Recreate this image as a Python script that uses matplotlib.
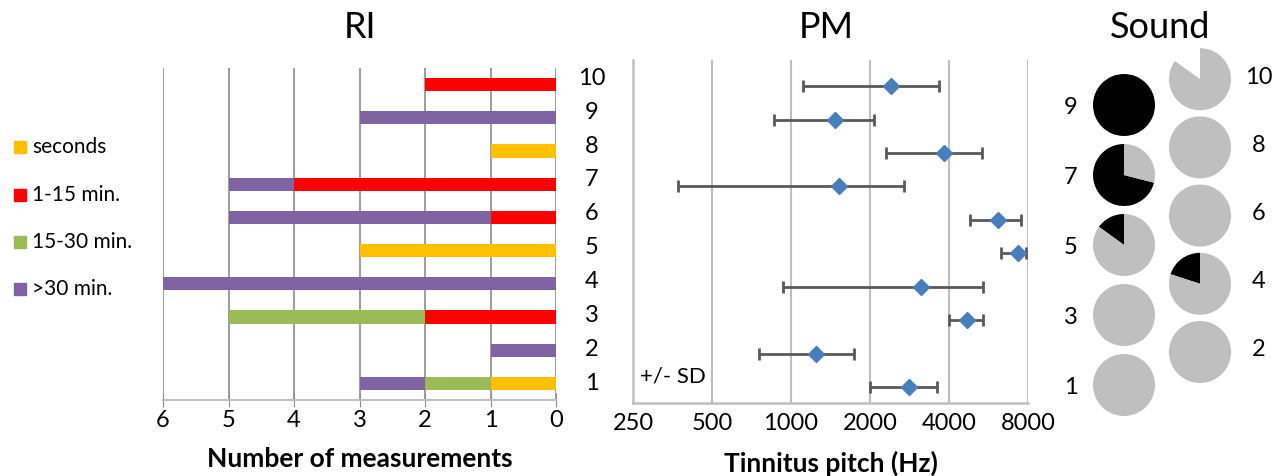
import numpy as np
import matplotlib
matplotlib.use('Agg')
import matplotlib.pyplot as plt
from matplotlib.patches import Rectangle
from matplotlib.transforms import blended_transform_factory

plt.rcParams['font.family'] = ['Lato', 'DejaVu Sans']

W, H = 1277, 476

# --- data ---
subjects = np.arange(1, 11)

# RI: number of measurements per duration category, subjects 1..10
ri_categories = ['seconds', '1-15 min.', '15-30 min.', '>30 min.']
ri_colors = ['#FFC000', '#FF0000', '#9BBB59', '#8064A2']
ri_seconds = [1, 0, 0, 0, 3, 0, 0, 1, 0, 0]
ri_1_15 = [0, 0, 2, 0, 0, 1, 4, 0, 0, 2]
ri_15_30 = [1, 0, 3, 0, 0, 0, 0, 0, 0, 0]
ri_over_30 = [1, 1, 0, 6, 0, 4, 1, 0, 3, 0]

# PM: tinnitus pitch mean and +/- SD range (Hz), subjects 1..10
pm_mean = [2810, 1250, 4680, 3140, 7300, 6160, 1518, 3815, 1468, 2410]
pm_low = [2000, 758, 4000, 935, 6300, 4790, 370, 2310, 865, 1107]
pm_high = [3600, 1740, 5380, 5380, 7830, 7510, 2690, 5320, 2080, 3680]
pm_ticks = [250, 500, 1000, 2000, 4000, 8000]

# Sound: pie fractions (black part, blank part, rest grey), subjects 1..10
sound_black = [0, 0, 0, 0.2, 0.15, 0, 0.71, 0, 1.0, 0]
sound_blank = [0, 0, 0, 0, 0, 0, 0, 0, 0, 0.15]

panel_titles = ['RI', 'PM', 'Sound']


def px_rect(x0, y0, x1, y1):
    # pixel box (top-left origin) -> figure fraction rect
    return [x0 / W, 1 - y1 / H, (x1 - x0) / W, (y1 - y0) / H]


fig = plt.figure(figsize=(W / 100, H / 100), dpi=100)

grid_dark = '#8C8C8C'
grid_light = '#BFBFBF'

# ---------------- RI panel ----------------
ax1 = fig.add_axes(px_rect(163, 68, 556, 400))
left = np.zeros(len(subjects))
for vals, color, name in zip([ri_seconds, ri_1_15, ri_15_30, ri_over_30], ri_colors, ri_categories):
    ax1.barh(subjects, vals, left=left, height=0.4, color=color, label=name, zorder=3)
    left += np.array(vals)

ax1.set_xlim(6, 0)
ax1.set_ylim(0.5, 10.5)
ax1.set_xticks(range(0, 7))
ax1.set_yticks([])
ax1.grid(axis='x', color=grid_dark, linewidth=1.2, zorder=0)
for s in ['top', 'right', 'left']:
    ax1.spines[s].set_visible(False)
ax1.spines['bottom'].set_color(grid_light)
ax1.spines['bottom'].set_linewidth(1.5)
ax1.tick_params(axis='x', direction='inout', length=10, color=grid_dark,
                labelsize=17, pad=2)
ax1.set_xlabel('Number of measurements', fontsize=19, fontweight='bold', labelpad=12)

# subject numbers between RI and PM (spaced a little wider than the bars)
trans = blended_transform_factory(fig.transFigure, ax1.transData)
for s in subjects:
    ax1.text(592 / W, s + 0.19 - 0.021 * (10 - s), str(s), transform=trans,
             ha='center', va='center', fontsize=17)

# legend drawn by hand
leg_y = [147, 195, 242, 289]
for name, color, y in zip(ri_categories, ri_colors, leg_y):
    fig.patches.append(Rectangle((14 / W, 1 - (y + 6) / H), 12 / W, 12 / H,
                                 transform=fig.transFigure, color=color))
    fig.text(32 / W, 1 - y / H, name, ha='left', va='center', fontsize=15)

# ---------------- PM panel ----------------
ax2 = fig.add_axes(px_rect(633, 60, 1028, 403))
mean = np.array(pm_mean)
err = [mean - np.array(pm_low), np.array(pm_high) - mean]
ax2.errorbar(mean, subjects, xerr=err, fmt='D', color='#4A7EBB', markersize=8,
             ecolor='#595959', elinewidth=2, capsize=4, capthick=2, zorder=3)
ax2.set_xscale('log', base=2)
ax2.set_xlim(250, 8000)
ax2.set_ylim(0.52, 10.78)
ax2.set_xticks(pm_ticks)
ax2.set_xticklabels([str(t) for t in pm_ticks])
ax2.minorticks_off()
ax2.set_yticks([])
ax2.grid(axis='x', color=grid_light, linewidth=1.5, zorder=0)
for s in ['top', 'right']:
    ax2.spines[s].set_visible(False)
for s in ['left', 'bottom']:
    ax2.spines[s].set_color(grid_light)
    ax2.spines[s].set_linewidth(1.8)
ax2.tick_params(axis='x', length=0, labelsize=17, pad=7)
ax2.set_xlabel('Tinnitus pitch (Hz)', fontsize=19, fontweight='bold', labelpad=12)
ax2.text(0.018, 0.076, '+/- SD', transform=ax2.transAxes, fontsize=16, va='center')

# ---------------- Sound panel ----------------
# axes in pixel units, y measured down from the top of the figure
ax3 = fig.add_axes(px_rect(1040, 30, 1277, 420))
col_x = [84, 160]
col_base = [385, 352]     # y of lowest pie in each column (subject 1 / 2)
col_step = [35.0, 34.1]   # px per subject step
radius = 31
for s, b, blank in zip(subjects, sound_black, sound_blank):
    c = (s + 1) % 2
    cx = col_x[c]
    cy = col_base[c] - (s - 1 - c) * col_step[c]
    grey = 1 - b - blank
    fracs = [b, blank, grey]
    cols = ['black', 'white', '#BFBFBF']
    keep = [i for i, f in enumerate(fracs) if f > 0]
    ax3.pie([fracs[i] for i in keep], colors=[cols[i] for i in keep], center=(cx, 420 - cy),
            radius=radius, startangle=90, counterclock=True,
            wedgeprops=dict(linewidth=0), normalize=True, frame=True)
    if c == 0:
        ax3.text(cx - 53, 420 - cy - 3, str(s), ha='center', va='center', fontsize=17)
    else:
        ax3.text(cx + 59, 420 - cy + 2, str(s), ha='center', va='center', fontsize=17)
ax3.set_xlim(0, 237)
ax3.set_ylim(0, 390)
ax3.set_aspect('auto')
ax3.axis('off')

# panel titles
for name, x in zip(panel_titles, [360, 826, 1160]):
    fig.text(x / W, 1 - 28 / H, name, ha='center', va='center', fontsize=26)

fig.savefig('out.png', dpi=100)
